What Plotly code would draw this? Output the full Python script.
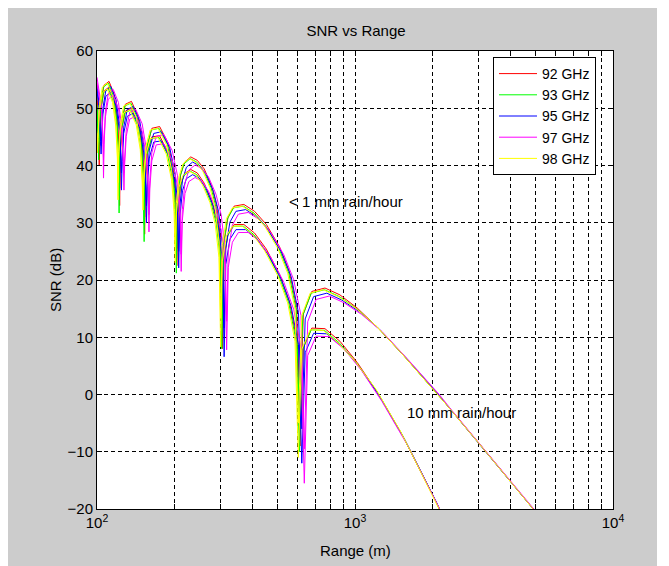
import plotly.graph_objects as go

# ---------------- data ----------------
# Range (m) sample positions for each frequency (nulls shift slightly with frequency)
range_92 = [100, 101.5, 102.0, 102.5, 103.7, 106.4, 111.3, 116.6, 120.0, 121.7, 122.4, 123.1, 124.9, 128.8,
            136.0, 144.0, 149.3, 151.9, 153.0, 154.2, 156.9, 163.2, 174.9, 188.3, 197.4, 202.0, 204.0, 206.1,
            211.0, 218.6, 230.9, 244.8, 260.4, 278.2, 291.4, 301.5, 306.0, 310.7, 322.1, 340.0, 370.9, 408.0,
            453.3, 510.0, 556.4, 594.2, 612.0, 630.9, 680.0, 765.0, 874.3, 1020, 1224, 1530, 2040, 2267,
            3060, 4080, 5100]
range_93 = [100, 101.0, 101.5, 102.0, 103.2, 105.9, 110.7, 116.0, 119.4, 121.1, 121.8, 122.5, 124.3, 128.2,
            135.3, 143.3, 148.5, 151.1, 152.3, 153.4, 156.2, 162.4, 174.0, 187.4, 196.5, 201.0, 203.0, 205.1,
            210.0, 217.5, 229.8, 243.6, 259.1, 276.8, 290.0, 300.0, 304.5, 309.1, 320.5, 338.3, 369.1, 406.0,
            451.1, 507.5, 553.6, 591.3, 609.0, 627.8, 676.7, 761.3, 870.0, 1015, 1218, 1523, 2030, 2256,
            3045, 4060, 5075]
range_95 = [100, 102.0, 103.2, 103.7, 104.2, 105.4, 108.2, 113.1, 118.5, 122.0, 123.7, 124.4, 125.2, 126.9,
            131.0, 138.2, 146.4, 151.7, 154.3, 155.5, 156.7, 159.5, 165.9, 177.7, 191.4, 200.6, 205.3, 207.3,
            209.4, 214.5, 222.1, 234.7, 248.8, 264.7, 282.7, 296.2, 306.4, 311.0, 315.7, 327.4, 345.6, 377.0,
            414.7, 460.7, 518.3, 565.5, 603.9, 622.0, 641.2, 691.1, 777.5, 888.6, 1037, 1244, 1555, 2073,
            2304, 3110, 4147, 5183]
range_97 = [100, 104.3, 105.5, 106.0, 106.5, 107.8, 110.6, 115.6, 121.1, 124.7, 126.4, 127.2, 128.0, 129.8,
            133.9, 141.3, 149.6, 155.1, 157.8, 159.0, 160.2, 163.1, 169.6, 181.7, 195.7, 205.2, 209.9, 212.0,
            214.1, 219.3, 227.1, 240.0, 254.4, 270.6, 289.1, 302.9, 313.3, 318.0, 322.8, 334.7, 353.3, 385.5,
            424.0, 471.1, 530.0, 578.2, 617.5, 636.0, 655.7, 706.7, 795.0, 908.6, 1060, 1272, 1590, 2120,
            2356, 3180, 4240, 5300]
range_98 = [100, 100.5, 101.0, 102.2, 104.9, 109.6, 114.9, 118.2, 119.9, 120.6, 121.3, 123.1, 126.9, 134.0,
            141.9, 147.1, 149.6, 150.8, 151.9, 154.6, 160.8, 172.3, 185.5, 194.5, 199.0, 201.0, 203.0, 207.9,
            215.4, 227.5, 241.2, 256.6, 274.1, 287.1, 297.0, 301.5, 306.1, 317.4, 335.0, 365.5, 402.0, 446.7,
            502.5, 548.2, 585.4, 603.0, 621.6, 670.0, 753.8, 861.4, 1005, 1206, 1508, 2010, 2233, 3015,
            4020, 5025]

# SNR (dB), "< 1 mm rain/hour"
snr_92_light = [52.3, 46.1, 43.0, 45.9, 50.9, 54.0, 54.7, 52.4, 48.3, 42.9, 36.0, 42.7, 47.6, 50.7, 51.2, 48.7,
                44.5, 39.0, 31.0, 38.8, 43.6, 46.5, 46.8, 44.0, 39.6, 34.0, 25.5, 33.7, 38.4, 40.6, 41.5, 40.9,
                39.4, 36.4, 32.8, 27.0, 13.0, 26.5, 31.0, 32.9, 33.2, 32.0, 29.7, 25.8, 21.5, 15.2, -3.0, 14.1,
                18.0, 18.6, 17.4, 15.1, 11.7, 7.0, 0.7, -1.8, -8.8, -15.6, -20.9]
snr_93_light = [50.6, 45.8, 44.0, 45.6, 50.6, 53.7, 54.4, 52.1, 48.0, 42.6, 34.7, 42.4, 47.3, 50.4, 50.9, 48.4,
                44.2, 38.7, 29.7, 38.5, 43.3, 46.2, 46.5, 43.7, 39.3, 33.7, 24.2, 33.4, 38.1, 40.3, 41.2, 40.6,
                39.1, 36.1, 32.5, 26.7, 13.0, 26.2, 30.7, 32.6, 32.9, 31.7, 29.4, 25.5, 21.2, 14.9, -4.0, 13.8,
                17.7, 18.3, 17.1, 15.0, 11.8, 7.1, 0.8, -1.7, -8.7, -15.5, -20.8]
snr_95_light = [54.0, 50.5, 45.2, 43.5, 45.0, 50.0, 53.1, 53.8, 51.5, 47.4, 42.0, 38.7, 41.8, 46.7, 49.8, 50.3,
                47.8, 43.6, 38.1, 33.0, 37.9, 42.7, 45.6, 45.9, 43.1, 38.7, 33.1, 25.0, 32.8, 37.5, 39.7, 40.6,
                40.0, 38.5, 35.5, 31.9, 26.1, 11.6, 25.6, 30.1, 32.0, 32.3, 31.1, 28.8, 24.9, 20.6, 14.3, -6.0,
                13.2, 17.1, 17.7, 16.5, 14.5, 11.4, 6.7, 0.4, -2.2, -9.2, -16.0, -21.3]
snr_97_light = [55.4, 50.0, 44.7, 41.0, 44.5, 49.5, 52.6, 53.3, 51.0, 46.9, 41.5, 38.7, 41.3, 46.2, 49.3, 49.8,
                47.3, 43.1, 37.6, 31.4, 37.4, 42.2, 45.1, 45.4, 42.6, 38.2, 32.6, 24.5, 32.3, 37.0, 39.2, 40.1,
                39.5, 38.0, 35.0, 31.4, 25.6, 12.8, 25.1, 29.6, 31.5, 31.8, 30.6, 28.3, 24.4, 20.1, 13.8, -9.5,
                12.7, 16.6, 17.2, 16.0, 14.0, 11.0, 6.3, 0.0, -2.6, -9.6, -16.4, -21.7]
snr_98_light = [45.7, 44.0, 45.6, 50.6, 53.7, 54.4, 52.1, 48.0, 42.6, 37.0, 42.4, 47.3, 50.4, 50.9, 48.4, 44.2,
                38.7, 35.0, 38.5, 43.3, 46.2, 46.5, 43.7, 39.3, 33.7, 26.0, 33.4, 38.1, 40.3, 41.2, 40.6, 39.1,
                36.1, 32.5, 26.7, 13.3, 26.2, 30.7, 32.6, 32.9, 31.7, 29.4, 25.5, 21.2, 14.9, -5.0, 13.8, 17.7,
                18.3, 17.1, 15.1, 12.0, 7.3, 1.0, -1.5, -8.5, -15.3, -20.6]

# SNR (dB), "10 mm rain/hour"
snr_92_heavy = [51.3, 45.1, 40.0, 45.0, 49.9, 53.0, 53.7, 51.3, 47.2, 41.8, 33.0, 41.6, 46.5, 49.5, 50.0, 47.4,
                43.1, 37.6, 28.0, 37.3, 42.2, 45.0, 45.2, 42.3, 37.8, 32.2, 22.5, 31.8, 36.5, 38.6, 39.3, 38.7,
                36.9, 33.8, 30.1, 24.2, 8.0, 23.6, 28.0, 29.7, 29.7, 28.2, 25.4, 21.0, 16.3, 9.6, -9.0, 8.2,
                11.6, 11.5, 9.3, 5.6, 0.3, -7.2, -18.3, -22.8]
snr_93_heavy = [49.7, 44.8, 41.0, 44.7, 49.6, 52.7, 53.4, 51.0, 46.9, 41.5, 31.7, 41.3, 46.2, 49.2, 49.7, 47.1,
                42.8, 37.3, 26.7, 37.0, 41.9, 44.7, 44.9, 42.0, 37.5, 31.9, 21.2, 31.5, 36.2, 38.3, 39.0, 38.4,
                36.6, 33.5, 29.8, 23.9, 8.0, 23.3, 27.7, 29.4, 29.4, 27.9, 25.1, 20.7, 16.0, 9.3, -10.0, 7.9,
                11.3, 11.2, 9.0, 5.5, 0.5, -7.0, -18.1, -22.6]
snr_95_heavy = [53.1, 49.6, 44.2, 42.0, 44.1, 49.0, 52.1, 52.8, 50.4, 46.3, 40.9, 35.7, 40.7, 45.6, 48.6, 49.1,
                46.5, 42.2, 36.7, 30.0, 36.4, 41.3, 44.1, 44.3, 41.4, 36.9, 31.3, 22.1, 30.9, 35.6, 37.7, 38.4,
                37.8, 36.0, 32.9, 29.2, 23.3, 6.6, 22.7, 27.1, 28.8, 28.8, 27.3, 24.5, 20.1, 15.4, 8.7, -12.0,
                7.3, 10.7, 10.6, 8.4, 4.9, -0.3, -7.8, -18.9, -23.5]
snr_97_heavy = [54.5, 49.0, 43.7, 37.8, 43.6, 48.5, 51.6, 52.3, 49.9, 45.8, 40.4, 35.7, 40.2, 45.1, 48.1, 48.6,
                46.0, 41.7, 36.2, 28.4, 35.9, 40.8, 43.6, 43.8, 40.9, 36.4, 30.8, 21.5, 30.4, 35.1, 37.2, 37.9,
                37.3, 35.5, 32.4, 28.7, 22.8, 7.8, 22.2, 26.6, 28.3, 28.3, 26.8, 24.0, 19.6, 14.9, 8.2, -15.5,
                6.8, 10.2, 10.1, 7.9, 4.2, -1.2, -8.7, -19.8, -24.5]
snr_98_heavy = [44.8, 42.2, 44.7, 49.6, 52.7, 53.4, 51.0, 46.9, 41.5, 34.0, 41.3, 46.2, 49.2, 49.7, 47.1, 42.8,
                37.3, 32.2, 37.0, 41.9, 44.7, 44.9, 42.0, 37.5, 31.9, 23.0, 31.5, 36.2, 38.3, 39.0, 38.4, 36.6,
                33.5, 29.8, 23.9, 8.3, 23.3, 27.7, 29.4, 29.4, 27.9, 25.1, 20.7, 16.0, 9.3, -11.0, 7.9, 11.3,
                11.2, 9.0, 5.7, 0.9, -6.6, -17.7, -22.1]

series_names = ["92 GHz", "93 GHz", "95 GHz", "97 GHz", "98 GHz"]
series_colors = ["#ff0000", "#00ff00", "#0000ff", "#ff00ff", "#ffff00"]

x_tick_values = [100, 1000, 10000]
x_tick_labels = ["10<sup>2</sup>", "10<sup>3</sup>", "10<sup>4</sup>"]
x_minor_values = [200, 300, 400, 500, 600, 700, 800, 900,
                  2000, 3000, 4000, 5000, 6000, 7000, 8000, 9000]

# ---------------- figure ----------------
ranges = [range_92, range_93, range_95, range_97, range_98]
light = [snr_92_light, snr_93_light, snr_95_light, snr_97_light, snr_98_light]
heavy = [snr_92_heavy, snr_93_heavy, snr_95_heavy, snr_97_heavy, snr_98_heavy]

FONT = "Liberation Sans, Arial, Helvetica, sans-serif"
FS = 15

fig = go.Figure()
for name, color, r, up, lo in zip(series_names, series_colors, ranges, light, heavy):
    fig.add_trace(go.Scatter(x=r[:len(up)], y=up, mode="lines", name=name,
                             legendgroup=name, line=dict(color=color, width=1)))
    fig.add_trace(go.Scatter(x=r[:len(lo)], y=lo, mode="lines", name=name,
                             legendgroup=name, showlegend=False,
                             line=dict(color=color, width=1)))

grid = dict(showgrid=True, gridcolor="black", gridwidth=1, griddash="4px,3px")

fig.update_xaxes(type="log", range=[2, 4], tickmode="array", tickvals=x_tick_values,
                 ticktext=x_tick_labels, ticks="inside", ticklen=5, tickcolor="black",
                 showline=True, linecolor="black", linewidth=1, mirror="allticks",
                 zeroline=False, tickfont=dict(family=FONT, size=FS, color="black"),
                 minor=dict(tickmode="array", tickvals=x_minor_values, ticks="inside",
                            ticklen=5, tickcolor="black", **grid),
                 **grid)
fig.update_yaxes(range=[-20, 60], tick0=0, dtick=10, ticks="inside", ticklen=5, tickcolor="black",
                 showline=True, linecolor="black", linewidth=1, mirror="allticks",
                 zeroline=False, tickfont=dict(family=FONT, size=FS, color="black"),
                 **grid)

# page has an 8 px body margin; figure covers x 8..657, y 8..566 of the window
OFF = 8
W, H = 649, 558
L, R, T, B = 89, 44, 43, 57
pw, ph = W - L - R, H - T - B


def px_x(px):
    return (px - OFF - L) / pw


def px_y(py):
    return (H - B - (py - OFF)) / ph


fig.update_layout(
    width=W, height=H,
    margin=dict(l=L, r=R, t=T, b=B, autoexpand=False),
    paper_bgcolor="#cccccc", plot_bgcolor="white",
    font=dict(family=FONT, size=FS, color="black"),
    title=dict(text="SNR vs Range", x=px_x(356), xref="paper", xanchor="center",
               y=1 - (31 - OFF) / H, yref="container", yanchor="middle",
               font=dict(family=FONT, size=FS, color="black")),
    showlegend=True,
    legend=dict(x=px_x(493), y=px_y(57), xanchor="left", yanchor="top",
                bgcolor="white", bordercolor="black", borderwidth=1,
                font=dict(family=FONT, size=14, color="black"),
                itemwidth=38, traceorder="normal"),
    annotations=[
        dict(text="< 1 mm rain/hour", x=2.965, y=33.8, xref="x", yref="y",
             showarrow=False, font=dict(family=FONT, size=FS, color="black")),
        dict(text="10 mm rain/hour", x=3.411, y=-3.1, xref="x", yref="y",
             showarrow=False, font=dict(family=FONT, size=FS, color="black")),
        dict(text="Range (m)", x=0.5, y=px_y(550), xref="paper", yref="paper",
             showarrow=False, yanchor="middle",
             font=dict(family=FONT, size=FS, color="black")),
        dict(text="SNR (dB)", x=px_x(55), y=0.5, xref="paper", yref="paper",
             showarrow=False, textangle=-90, xanchor="center", yanchor="middle",
             font=dict(family=FONT, size=FS, color="black")),
    ],
)

fig.write_html("out.html")
